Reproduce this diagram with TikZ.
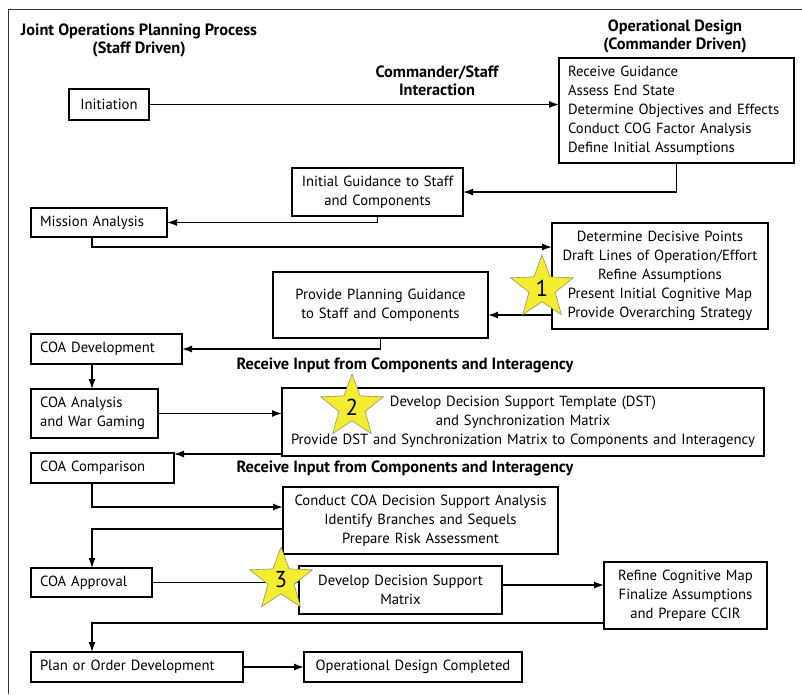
\documentclass[tikz,border=0pt]{standalone}
\usepackage{fontspec}
\setmainfont{PT Sans}
\usepackage{tikz}
\usetikzlibrary{positioning}
\usetikzlibrary{shapes,shapes.geometric,arrows,arrows.meta}
\definecolor{staryellow}{RGB}{243,236,48}
\definecolor{staredge}{RGB}{150,150,110}
\tikzstyle{block} = [rectangle, draw, line width=1.3pt, inner xsep=9pt, inner ysep=2pt, outer sep=0pt,
font=\fontsize{14.7}{19}\selectfont]
\tikzstyle{cblock} = [block, inner xsep=3pt, align=center]
\tikzstyle{head} = [font=\fontsize{16.3}{18}\selectfont\bfseries, align=center]
\tikzstyle{line} = [draw, line width=1.3pt, -{Latex[length=10pt,width=7pt]}]
\tikzstyle{badge} = [star, star points=5, star point ratio=2.4, minimum size=66pt, inner sep=0pt,
fill=staryellow, draw=staredge, line width=0.6pt, font=\fontsize{23}{23}\selectfont]

\begin{document}
\begin{tikzpicture}[x=1pt, y=-1pt]
\useasboundingbox (0,0) rectangle (802,694);
\draw [line width=0.8pt, black!80] (8,694) -- (8,9) -- (802,9);
    % titles
\node [head] (jopp) at (139,40.5) {Joint Operations Planning Process\\(Staff Driven)};
\node [head] (opdh) at (675,36) {Operational Design\\(Commander Driven)};
\node [head] (csi) at (437,80.5) {Commander/Staff\\Interaction};
\node [head] (rin1) at (405,365) {Receive Input from Components and Interagency};
\node [head] (rin2) at (405,468) {Receive Input from Components and Interagency};
    % nodes
\node [cblock, text width=74pt, minimum height=31pt] (init) at (109,104.5) {Initiation};
\node [block, text width=217pt, minimum height=105pt, align=left] (opd) at (676.5,110.5) {Receive Guidance\\Assess End State\\Determine Objectives and Effects\\Conduct COG Factor Analysis\\Define Initial Assumptions};
\node [cblock, text width=165pt, minimum height=48pt] (igs) at (377.5,192) {Initial Guidance to Staff\\and Components};
\node [block, text width=118pt, minimum height=29pt, align=left] (mis) at (99,222.5) {Mission Analysis};
\node [cblock, text width=210pt, minimum height=106pt] (ddp) at (660,276) {Determine Decisive Points\\Draft Lines of Operation/Effort\\Refine Assumptions\\Present Initial Cognitive Map\\Provide Overarching Strategy};
\node [cblock, text width=209pt, minimum height=66pt] (ppg) at (380.5,305) {Provide Planning Guidance\\to Staff and Components};
\node [block, text width=133pt, minimum height=30pt, align=left] (coad) at (106.5,349) {COA Development};
\node [block, text width=109pt, minimum height=49pt, align=left] (coaa) at (94.5,413.5) {COA Analysis\\and War Gaming};
\node [cblock, text width=476pt, minimum height=68pt] (dst) at (523,422) {Develop Decision Support Template (DST)\\and Synchronization Matrix\\Provide DST and Synchronization Matrix to Components and Interagency};
\node [block, text width=125pt, minimum height=30pt, align=left] (coac) at (102.5,468) {COA Comparison};
\node [cblock, text width=269pt, minimum height=67pt] (cca) at (420.5,520.5) {Conduct COA Decision Support Analysis\\Identify Branches and Sequels\\Prepare Risk Assessment};
\node [block, text width=103pt, minimum height=29pt, align=left] (coap) at (91.5,582.5) {COA Approval};
\node [cblock, text width=197pt, minimum height=48pt] (dsm) at (400.5,590) {Develop Decision Support\\Matrix};
\node [cblock, text width=157pt, minimum height=67pt] (rcm) at (685.5,595.5) {Refine Cognitive Map\\Finalize Assumptions\\and Prepare CCIR};
\node [block, text width=194pt, minimum height=30pt, align=left] (pod) at (137,667) {Plan or Order Development};
\node [cblock, text width=212pt, minimum height=30pt] (odc) at (413,667) {Operational Design Completed};
\coordinate (spine) at (92,0);

%edges
\path [line] (init.east) -- (init.east -| opd.west);
\draw [line] (opd.south) |- (igs.east);
\draw [line] (igs.south) |- (mis.east);
\draw [line] (mis.south -| spine) |- ([yshift=-24pt]ddp.north west);
\path [line] ([yshift=14pt]ddp.south west) -- ([yshift=14pt]ddp.south west -| ppg.east);
\draw [line] (ppg.south) |- (coad.east);
\path [line] (coad.south -| spine) -- (coaa.north -| spine);
\path [line] (coaa.east) -- (coaa.east -| dst.west);
\path [line] ([yshift=2pt]dst.south west) -- ([yshift=2pt]dst.south west -| coac.east);
\draw [line] (coac.south -| spine) |- ([yshift=-20pt]cca.north west);
\draw [line] ([yshift=-42pt]cca.north west) -| (coap.north -| spine);
\path [line] (coap.east) -- (coap.east -| dsm.west);
\path [line] ([yshift=5pt]dsm.east) -- ([yshift=5pt]dsm.east -| rcm.west);
\draw [line] ([yshift=6pt]rcm.south west) -| (pod.north -| spine);
\path [line] (pod.east) -- (odc.west);

    % stars
\node [badge] (s1) at (542,288) {1};
\node [badge] (s2) at (352,407) {2};
\node [badge] (s3) at (281,580) {3};
\end{tikzpicture}
\end{document}
